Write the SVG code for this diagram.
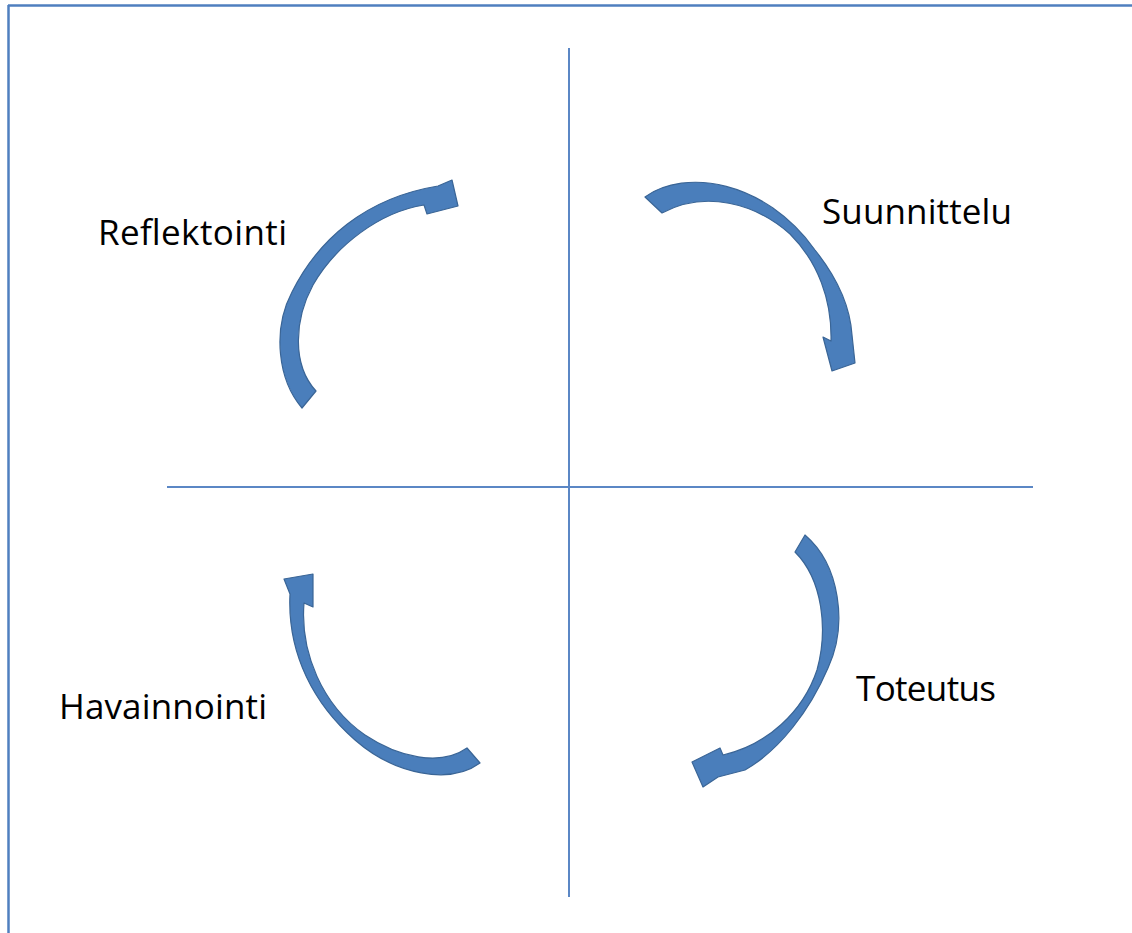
<svg xmlns="http://www.w3.org/2000/svg" width="1132" height="933" viewBox="0 0 1132 933">
<style>
.frame{stroke:#4f7fbf;stroke-width:2.5;fill:none}
.axis{stroke:#5b87c5;stroke-width:2;fill:none}
.arrow{fill:#4a7ebb;stroke:#3a6596;stroke-width:1.2;stroke-linejoin:round}
.lbl{font-family:"Open Sans","Liberation Sans",sans-serif;font-size:35px;fill:#000}
</style>
<rect x="0" y="0" width="1132" height="933" fill="#ffffff"/>
<g id="frame">
<line class="frame" x1="8" y1="5.5" x2="1132" y2="5.5"/>
<line class="frame" x1="8.5" y1="5" x2="8.5" y2="933"/>
</g>
<g id="axes">
<line class="axis" x1="569" y1="48" x2="569" y2="897"/>
<line class="axis" x1="167" y1="487" x2="1033" y2="487"/>
</g>
<g id="connectors">
<path id="arrow-reflektointi" class="arrow" d="M302,408 C278,380 272,330 292,292 C318,240 365,198 438,186 L452,180 L458,206 L427,214 L424,205 C380,212 336,245 313,285 C294,320 292,365 316,391 Z"/>
<path id="arrow-suunnittelu" class="arrow" d="M645,197 C685,168 765,180 815,250 C835,275 850,305 852,335 L855,363 L832,371 L823,337 L831,341 C832,300 818,262 790,234 C755,203 705,190 662,213 Z"/>
<path id="arrow-toteutus" class="arrow" d="M805,535 C840,565 848,625 828,668 C810,710 780,750 745,770 L718,777 L703,787 L692,762 L720,748 L723,755 C767,745 803,712 817,670 C828,630 823,580 795,552 Z"/>
<path id="arrow-havainnointi" class="arrow" d="M480,763 C450,785 395,775 355,740 C315,705 287,655 290,594 L284,579 L313,574 L313,607 L304,603 C300,652 322,705 365,735 C398,757 440,767 467,748 Z"/>
</g>
<g id="node-reflektointi"><text class="lbl" x="98" y="245" textLength="189">Reflektointi</text></g>
<g id="node-suunnittelu"><text class="lbl" x="822" y="224" textLength="190">Suunnittelu</text></g>
<g id="node-toteutus"><text class="lbl" x="856" y="701" textLength="140">Toteutus</text></g>
<g id="node-havainnointi"><text class="lbl" x="59" y="719" textLength="208">Havainnointi</text></g>
</svg>
